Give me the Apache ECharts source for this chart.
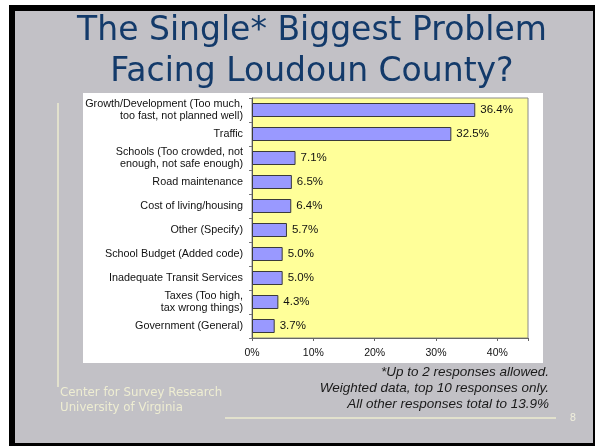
<!DOCTYPE html>
<html>
<head>
<meta charset="utf-8">
<script src="https://cdn.jsdelivr.net/npm/echarts@6/dist/echarts.min.js"></script>
<style>
html,body{margin:0;padding:0;background:#fff;}
#c{width:595px;height:446px;}
</style>
</head>
<body>
<div id="c"></div>
<script>
const categories = [
  "Growth/Development (Too much,\ntoo fast, not planned well)",
  "Traffic",
  "Schools (Too crowded, not\nenough, not safe enough)",
  "Road maintenance",
  "Cost of living/housing",
  "Other (Specify)",
  "School Budget (Added code)",
  "Inadequate Transit Services",
  "Taxes (Too high,\ntax wrong things)",
  "Government (General)"
];
const values = [36.4, 32.5, 7.1, 6.5, 6.4, 5.7, 5.0, 5.0, 4.3, 3.7];
const xTicks = [0, 10, 20, 30, 40];
const titleLines = ["The Single* Biggest Problem", "Facing Loudoun County?"];
const footnoteLines = ["*Up to 2 responses allowed.", "Weighted data, top 10 responses only.", "All other responses total to 13.9%"];
const orgLines = ["Center for Survey Research", "University of Virginia"];
const pageNumber = "8";

const chart = echarts.init(document.getElementById('c'), null, {renderer: 'canvas'});

const graphics = [
  {type:'rect', shape:{x:9,y:5,width:586,height:441}, style:{fill:'#000'}, z:-10},
  {type:'rect', shape:{x:15,y:11,width:578,height:432}, style:{fill:'#c2c1c6'}, z:-9},
  {type:'rect', shape:{x:83,y:93,width:460,height:270}, style:{fill:'#ffffff'}, z:-8},
  {type:'line', shape:{x1:58,y1:103,x2:58,y2:387}, style:{stroke:'#ecebcf', lineWidth:1.5}, z:-7},
  {type:'line', shape:{x1:225,y1:418,x2:556,y2:418}, style:{stroke:'#ecebcf', lineWidth:1.5}, z:-7},
  {type:'text', x:573, y:418, style:{text:pageNumber, fill:'#efeedc', font:'10px "DejaVu Sans"', align:'center', verticalAlign:'middle'}}
];
titleLines.forEach((t,i)=>{
  graphics.push({type:'text', x:312, y:31 + i*41, style:{text:t, fill:'#133a6a', font:'33px "DejaVu Sans"', align:'center', verticalAlign:'middle'}});
});
footnoteLines.forEach((t,i)=>{
  graphics.push({type:'text', x:549, y:372 + i*16, style:{text:t, fill:'#1a1a1a', font:'italic 13.5px "Liberation Sans"', align:'right', verticalAlign:'middle'}});
});
orgLines.forEach((t,i)=>{
  graphics.push({type:'text', x:60, y:393 + i*14.5, style:{text:t, fill:'#eeedd2', font:'11.8px "DejaVu Sans"', align:'left', verticalAlign:'middle'}});
});

chart.setOption({
  animation:false,
  backgroundColor:'#fff',
  graphic: graphics,
  grid:{left:252, right:67, top:98, bottom:108, show:true, backgroundColor:'#ffff99', borderColor:'#8a8a8a', borderWidth:1},
  xAxis:{
    type:'value', min:0, max:45, interval:10,
    axisLine:{show:true, lineStyle:{color:'#666'}},
    axisTick:{show:true, length:3, lineStyle:{color:'#666'}},
    splitLine:{show:false},
    axisLabel:{
      fontFamily:'Liberation Sans', fontSize:10.5, color:'#111', margin:10,
      formatter:function(v){ return xTicks.indexOf(v) >= 0 ? v + '%' : ''; }
    }
  },
  yAxis:{
    type:'category', data:categories, inverse:true,
    axisLine:{show:true, lineStyle:{color:'#555'}},
    axisTick:{show:true, length:3, lineStyle:{color:'#777'}},
    axisLabel:{fontFamily:'Liberation Sans', fontSize:10.8, color:'#111', lineHeight:12, margin:9, align:'right'}
  },
  series:[{
    type:'bar', data:values, barWidth:14,
    itemStyle:{color:'#9999ff', borderColor:'#3a3a3a', borderWidth:1},
    label:{show:true, position:'right', distance:5, fontFamily:'Liberation Sans', fontSize:11.5, color:'#111',
      formatter:function(p){ return p.value.toFixed(1) + '%'; }}
  }]
});
</script>
</body>
</html>
